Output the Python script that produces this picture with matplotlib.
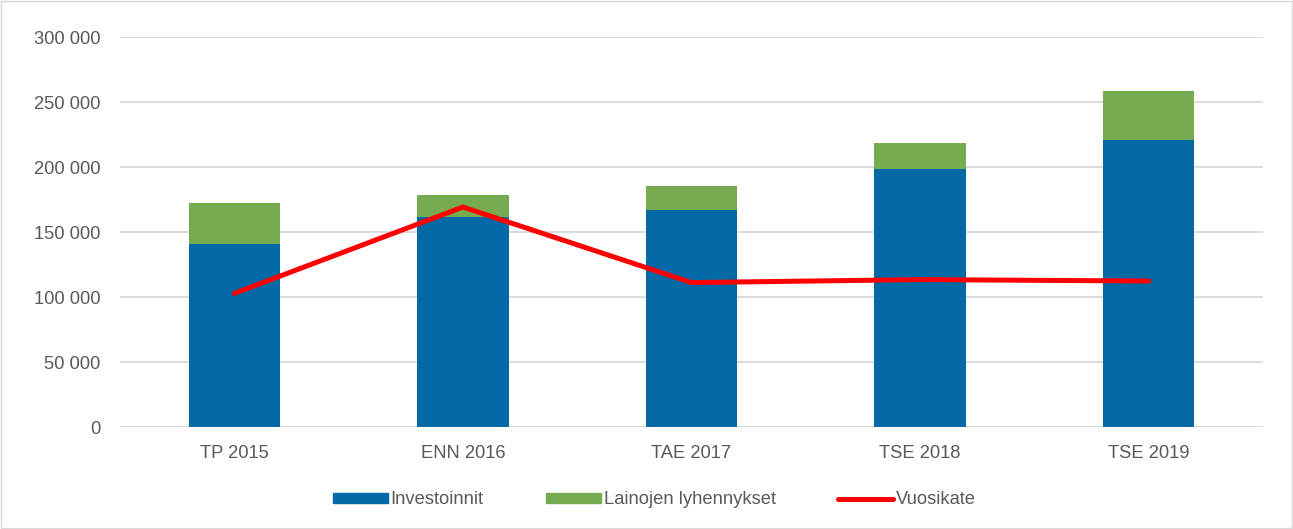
import numpy as np
import matplotlib.pyplot as plt
from matplotlib.lines import Line2D
from matplotlib.patches import Patch

categories = ['TP 2015', 'ENN 2016', 'TAE 2017', 'TSE 2018', 'TSE 2019']
investoinnit = [141000, 161500, 167000, 198500, 220500]
lainojen = [31000, 16700, 18500, 20000, 37700]
vuosikate = [102800, 169200, 111100, 113400, 112300]
yticks = [0, 50000, 100000, 150000, 200000, 250000, 300000]

plt.rcParams['font.family'] = ['Liberation Sans', 'DejaVu Sans']

fig = plt.figure(figsize=(12.93, 5.29), dpi=100)
ax = fig.add_axes([0.0928, 0.1928, 0.8840, 0.7372])

x = np.arange(len(categories))
ax.bar(x, investoinnit, width=0.40, color='#0069a6', zorder=2)
ax.bar(x, lainojen, width=0.40, bottom=investoinnit, color='#76ab51', zorder=2)
ax.plot(x, vuosikate, color='#ff0000', linewidth=3.6, solid_capstyle='round',
        solid_joinstyle='miter', zorder=3)

ax.set_xlim(-0.5, len(categories) - 0.5)
ax.set_ylim(0, 300000)
ax.set_yticks(yticks)
ax.set_yticklabels([f'{v:,}'.replace(',', ' ') for v in yticks])
ax.set_xticks(x)
ax.set_xticklabels(categories)
ax.yaxis.grid(True, color='#d9d9d9', linewidth=1.3, zorder=0)
ax.set_axisbelow(True)
for s in ax.spines.values():
    s.set_visible(False)
ax.tick_params(axis='both', length=0, labelsize=13.2, labelcolor='#595959')
ax.tick_params(axis='y', pad=14)
ax.tick_params(axis='x', pad=13)

handles = [Patch(color='#0069a6'), Patch(color='#76ab51'),
           Line2D([0], [0], color='#ff0000', linewidth=3.6, solid_capstyle='round')]
leg = fig.legend(handles, ['Investoinnit', 'Lainojen lyhennykset', 'Vuosikate'],
                 loc='center', bbox_to_anchor=(0.506, 0.055), ncol=3, frameon=False,
                 fontsize=13.2, handlelength=3.0, handleheight=0.5, handletextpad=0.15,
                 columnspacing=3.4)
for t in leg.get_texts():
    t.set_color('#595959')

border = plt.Rectangle((0.001, 0.002), 0.998, 0.996, transform=fig.transFigure,
                       fill=False, edgecolor='#d9d9d9', linewidth=1)
fig.patches.append(border)

fig.savefig('out.png', dpi=100)
